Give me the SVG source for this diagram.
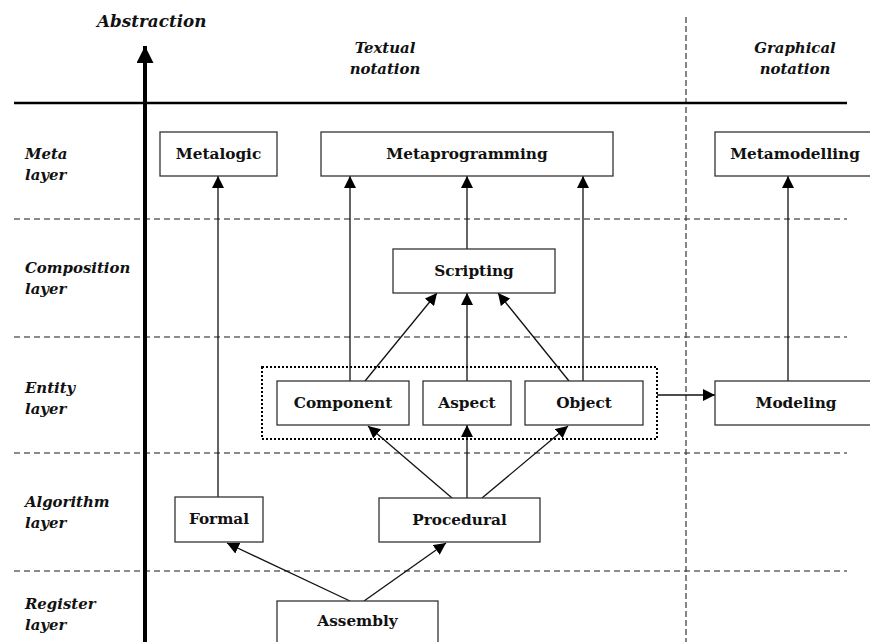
<svg xmlns="http://www.w3.org/2000/svg" width="870" height="642" viewBox="0 0 870 642">
<style>
text{font-family:'DejaVu Serif','Liberation Serif',serif}
.box{fill:#fff;stroke:#333;stroke-width:1.3}
.bt{font-weight:bold;font-size:15.3px;fill:#111;text-anchor:middle}
.lab{font-weight:bold;font-style:italic;font-size:14.9px;fill:#111}
.dash{stroke:#666;stroke-width:1.5;stroke-dasharray:6,4;fill:none}
.conn{stroke:#111;stroke-width:1.3;fill:none;marker-end:url(#ah)}
</style>
<defs>
<marker id="ah" markerUnits="userSpaceOnUse" markerWidth="13" markerHeight="12" refX="12" refY="6" orient="auto">
<path d="M0,0 L12,6 L0,12 z" fill="#000"/>
</marker>
<marker id="big" markerUnits="userSpaceOnUse" markerWidth="18" markerHeight="17" refX="17" refY="8.5" orient="auto">
<path d="M0,0 L17,8.5 L0,17 z" fill="#000"/>
</marker>
</defs>
<rect width="870" height="642" fill="#fff"/>
<g id="grid">
<line x1="14" y1="219" x2="847" y2="219" class="dash"/>
<line x1="14" y1="337" x2="847" y2="337" class="dash"/>
<line x1="14" y1="453" x2="847" y2="453" class="dash"/>
<line x1="14" y1="571" x2="847" y2="571" class="dash"/>
<line x1="686" y1="17" x2="686" y2="642" stroke="#444" stroke-width="1.3" stroke-dasharray="6,3"/>
<line x1="14" y1="103" x2="847" y2="103" stroke="#000" stroke-width="2.5"/>
<line x1="145" y1="642" x2="145" y2="46" stroke="#000" stroke-width="4" marker-end="url(#big)"/>
</g>
<g id="labels">
<text x="97" y="27" class="lab" style="font-size:16.8px">Abstraction</text>
<text x="385" y="53" class="lab" text-anchor="middle">Textual</text>
<text x="385" y="74" class="lab" text-anchor="middle">notation</text>
<text x="795" y="53" class="lab" text-anchor="middle">Graphical</text>
<text x="795" y="74" class="lab" text-anchor="middle">notation</text>
<text x="25" y="159" class="lab">Meta</text>
<text x="25" y="180" class="lab">layer</text>
<text x="25" y="273" class="lab">Composition</text>
<text x="25" y="294" class="lab">layer</text>
<text x="25" y="393" class="lab">Entity</text>
<text x="25" y="414" class="lab">layer</text>
<text x="25" y="507" class="lab">Algorithm</text>
<text x="25" y="528" class="lab">layer</text>
<text x="25" y="609" class="lab">Register</text>
<text x="25" y="630" class="lab">layer</text>
</g>
<g id="connectors">
<line x1="218" y1="497" x2="218" y2="176" class="conn"/>
<line x1="350" y1="381" x2="350" y2="176" class="conn"/>
<line x1="467" y1="249" x2="467" y2="176" class="conn"/>
<line x1="583" y1="381" x2="583" y2="176" class="conn"/>
<line x1="788" y1="381" x2="788" y2="176" class="conn"/>
<line x1="365" y1="381" x2="437" y2="293" class="conn"/>
<line x1="467" y1="381" x2="467" y2="293" class="conn"/>
<line x1="569" y1="381" x2="498" y2="293" class="conn"/>
<line x1="657" y1="395" x2="715" y2="395" class="conn"/>
<line x1="452" y1="498" x2="368" y2="426" class="conn"/>
<line x1="467" y1="498" x2="467" y2="425" class="conn"/>
<line x1="482" y1="498" x2="568" y2="426" class="conn"/>
<line x1="350" y1="601" x2="227" y2="543" class="conn"/>
<line x1="364" y1="601" x2="446" y2="543" class="conn"/>
</g>
<g id="entity-group">
<rect x="262" y="367" width="395" height="72" fill="none" stroke="#000" stroke-width="2" stroke-dasharray="2,2"/>
</g>
<g id="metalogic"><rect class="box" x="160" y="132" width="117" height="44"/><text class="bt" x="218.5" y="158.5">Metalogic</text></g>
<g id="metaprogramming"><rect class="box" x="321" y="132" width="292" height="44"/><text class="bt" x="467" y="158.5">Metaprogramming</text></g>
<g id="metamodelling"><rect class="box" x="715" y="132" width="162" height="44"/><text class="bt" x="795" y="158.5">Metamodelling</text></g>
<g id="scripting"><rect class="box" x="393" y="249" width="162" height="44"/><text class="bt" x="474" y="275.5">Scripting</text></g>
<g id="component"><rect class="box" x="277" y="381" width="132" height="44"/><text class="bt" x="343" y="407.5">Component</text></g>
<g id="aspect"><rect class="box" x="423" y="381" width="88" height="44"/><text class="bt" x="467" y="407.5">Aspect</text></g>
<g id="object"><rect class="box" x="525" y="381" width="118" height="44"/><text class="bt" x="584" y="407.5">Object</text></g>
<g id="modeling"><rect class="box" x="715" y="381" width="162" height="44"/><text class="bt" x="796" y="407.5">Modeling</text></g>
<g id="formal"><rect class="box" x="175" y="497" width="88" height="45"/><text class="bt" x="219" y="523.5">Formal</text></g>
<g id="procedural"><rect class="box" x="379" y="498" width="161" height="44"/><text class="bt" x="459.5" y="524.5">Procedural</text></g>
<g id="assembly"><rect class="box" x="277" y="601" width="161" height="50"/><text class="bt" x="357.5" y="626">Assembly</text></g>
</svg>
